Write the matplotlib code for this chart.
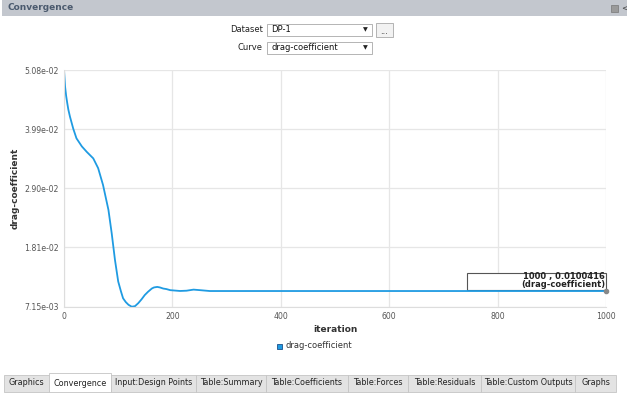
import numpy as np
import matplotlib.pyplot as plt
from matplotlib.patches import Rectangle

# convergence history
iteration = [0, 2, 4, 6, 8, 11, 17, 23, 33, 42, 54, 63, 72, 82, 88, 94, 100, 105,
             109, 114, 119, 125, 131, 137, 143, 149, 155, 162, 166, 172, 177, 183,
             189, 196, 214, 226, 239, 251, 269, 400, 600, 800, 1000]
drag_coeff = [0.0508, 0.0477, 0.0460, 0.0447, 0.0435, 0.0422, 0.0400, 0.0382,
              0.0367, 0.0357, 0.0345, 0.0327, 0.0296, 0.0250, 0.0207, 0.0158,
              0.0118, 0.0100, 0.0087, 0.0080, 0.0075, 0.00715, 0.00725, 0.0078,
              0.0085, 0.0093, 0.0099, 0.0105, 0.0107, 0.0108, 0.0107, 0.0105,
              0.0104, 0.0102, 0.01005, 0.0101, 0.0103, 0.0102, 0.01004, 0.0100416,
              0.0100416, 0.0100416, 0.0100416]
yticks = [0.00715, 0.0181, 0.0290, 0.0399, 0.0508]
ytick_labels = ["7.15e-03", "1.81e-02", "2.90e-02", "3.99e-02", "5.08e-02"]
xticks = [0, 200, 400, 600, 800, 1000]
tabs = ["Graphics", "Convergence", "Input:Design Points", "Table:Summary",
        "Table:Coefficients", "Table:Forces", "Table:Residuals",
        "Table:Custom Outputs", "Graphs"]
tab_edges = [4, 49, 111, 196, 266, 348, 408, 481, 575, 616]

W, H = 627, 393
plt.rcParams['font.family'] = ['DejaVu Sans']
fig = plt.figure(figsize=(W / 100, H / 100), dpi=100)

def fx(px):
    return px / W

def fy(py):
    return 1 - py / H

# title bar
fig.patches.append(Rectangle((fx(2), fy(16)), fx(625), 16 / H, transform=fig.transFigure,
                             facecolor="#c3c7ce", edgecolor="none"))
fig.text(fx(8), fy(8), "Convergence", fontsize=6.5, fontweight="bold",
         color="#4b5a6e", va="center")
fig.patches.append(Rectangle((fx(611), fy(12)), 7 / W, 7 / H, transform=fig.transFigure,
                             facecolor="#9a9a9a", edgecolor="#777777", lw=0.5))
fig.text(fx(621), fy(8), "<", fontsize=6, color="#444444", va="center")

# dataset / curve selectors
fig.text(fx(263), fy(30), "Dataset", fontsize=6, ha="right", va="center", color="#222222")
fig.text(fx(263), fy(48), "Curve", fontsize=6, ha="right", va="center", color="#222222")
for y0, txt in [(24, "DP-1"), (42, "drag-coefficient")]:
    fig.patches.append(Rectangle((fx(267), fy(y0 + 12)), 105 / W, 12 / H,
                                 transform=fig.transFigure, facecolor="white",
                                 edgecolor="#a8a8a8", lw=0.6))
    fig.text(fx(271), fy(y0 + 6), txt, fontsize=6, va="center", color="#111111")
    fig.text(fx(365), fy(y0 + 6), "\u25BC", fontsize=4.5, ha="center", va="center",
             color="#222222")
fig.patches.append(Rectangle((fx(376), fy(37)), 17 / W, 14 / H, transform=fig.transFigure,
                             facecolor="#f2f2f2", edgecolor="#a8a8a8", lw=0.6))
fig.text(fx(384.5), fy(31), "...", fontsize=6, ha="center", va="center", color="#222222")

# chart
ax = fig.add_axes([fx(64), fy(306.7), fx(606) - fx(64), (306.7 - 70) / H])
ax.plot(iteration, drag_coeff, color="#1f9be2", lw=1.3)
ax.set_xlim(0, 1000)
ax.set_ylim(yticks[0], yticks[-1])
ax.set_xticks(xticks)
ax.set_yticks(yticks)
ax.set_yticklabels(ytick_labels)
ax.grid(True, color="#e6e6e6", lw=0.9)
ax.set_axisbelow(True)
ax.tick_params(length=0, labelsize=5.6, colors="#555555", pad=4)
for s in ["top", "right"]:
    ax.spines[s].set_visible(False)
for s in ["left", "bottom"]:
    ax.spines[s].set_color("#dddddd")
ax.set_xlabel("iteration", fontsize=6.5, fontweight="bold", color="#333333", labelpad=3)
ax.set_ylabel("drag-coefficient", fontsize=6.5, fontweight="bold", color="#333333",
              labelpad=3)

# probe label at the last point
ax.plot(iteration[-1], drag_coeff[-1], "o", ms=3, color="#888888", clip_on=False)
ax.add_patch(Rectangle((0.7435, 0.0706), 0.2565, 0.0718, transform=ax.transAxes,
                       facecolor="white", edgecolor="#555555", lw=0.8, clip_on=False))
ax.text(0.998, 0.1255, "1000 , 0.0100416", transform=ax.transAxes, ha="right",
        va="center", fontsize=6, fontweight="bold", color="#222222")
ax.text(0.998, 0.0917, "(drag-coefficient)", transform=ax.transAxes, ha="right",
        va="center", fontsize=6, fontweight="bold", color="#222222")

# legend
fig.patches.append(Rectangle((fx(277), fy(348.5)), 5 / W, 5 / H, transform=fig.transFigure,
                             facecolor="#1f9be2", edgecolor="#1b4f8a", lw=0.6))
fig.text(fx(285), fy(346), "drag-coefficient", fontsize=6, va="center", color="#333333")

# tab strip
for i, name in enumerate(tabs):
    x0, x1 = tab_edges[i], tab_edges[i + 1]
    active = name == "Convergence"
    top = 373 if active else 375
    fig.patches.append(Rectangle((fx(x0), fy(392)), (x1 - x0) / W, (392 - top) / H,
                                 transform=fig.transFigure,
                                 facecolor="white" if active else "#e3e3e3",
                                 edgecolor="#c4c4c4", lw=0.6))
    fig.text(fx((x0 + x1) / 2), fy(383.5 if active else 382.5), name, fontsize=5.8,
             ha="center", va="center", color="#222222")

fig.savefig("out.png", dpi=100)
